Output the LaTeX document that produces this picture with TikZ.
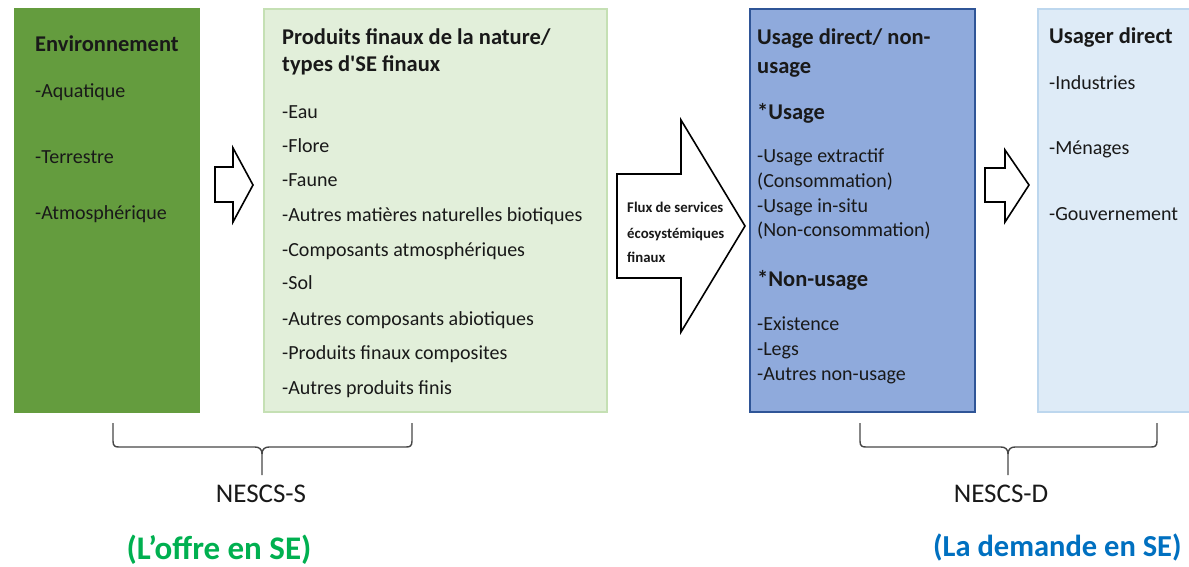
\documentclass[tikz,border=0pt]{standalone}
\usepackage{fontspec}
\setmainfont{Carlito}[Ligatures=TeXOff]
\definecolor{dgreen}{RGB}{100,156,62}
\definecolor{lgreen}{RGB}{226,239,218}
\definecolor{lgreenb}{RGB}{197,224,180}
\definecolor{mblue}{RGB}{143,170,220}
\definecolor{mblueb}{RGB}{47,85,151}
\definecolor{lblue}{RGB}{222,235,247}
\definecolor{lblueb}{RGB}{189,215,238}
\definecolor{offre}{RGB}{0,176,80}
\definecolor{demande}{RGB}{0,112,192}
\definecolor{bracec}{RGB}{70,70,70}
\tikzset{
  txt/.style={anchor=mid west, inner sep=0pt, yshift=-4pt, text=black!90, font=\fontsize{20}{24}\selectfont},
  ttl/.style={txt, font=\fontsize{22.5}{27}\selectfont\bfseries},
  flux/.style={anchor=mid west, inner sep=0pt, yshift=-3pt, text=black!90, font=\fontsize{14.8}{17}\selectfont\bfseries},
  blockarrow/.style={draw=black, line width=1.6pt, fill=white, line join=miter},
  bracepath/.style={draw=bracec, line width=1.4pt},
  nescs/.style={inner sep=0pt, text=black!90, font=\fontsize{27}{32}\selectfont},
  side/.style={inner sep=0pt, font=\fontsize{33}{38}\selectfont\bfseries}
}
\begin{document}
\begin{tikzpicture}[x=1pt,y=-1pt]
\useasboundingbox (0,0) rectangle (1189,566);

% boxes
\fill[dgreen] (14,8) rectangle (200,413);
\draw[lgreenb, fill=lgreen, line width=1.6pt] (264,9) rectangle (607,412);
\draw[mblueb, fill=mblue, line width=1.6pt] (750,9) rectangle (975,412);
\draw[lblueb, fill=lblue, line width=1.6pt] (1038,9) rectangle (1200,412);

% block arrows
\draw[blockarrow] (215,167) -- (233,167) -- (233,148) -- (253,185) -- (233,222) -- (233,202) -- (215,202) -- cycle;
\draw[blockarrow] (617,174) -- (681,174) -- (681,120) -- (745,226) -- (681,332) -- (681,278) -- (617,278) -- cycle;
\draw[blockarrow] (985,168) -- (1005,168) -- (1005,150) -- (1029,185) -- (1005,222) -- (1005,202) -- (985,202) -- cycle;

% box 1
\node[ttl] (e0) at (35,45) {Environnement};
\node[txt] (e1) at (35,91) {-Aquatique};
\node[txt] (e2) at (35,157) {-Terrestre};
\node[txt] (e3) at (35,213) {-Atmosphérique};

% box 2
\node[ttl] (p0) at (282,38) {Produits finaux de la nature/};
\node[ttl] (p0b) at (282,65) {types d'SE finaux};
\node[txt] (p1) at (282,112) {-Eau};
\node[txt] (p2) at (282,146) {-Flore};
\node[txt] (p3) at (282,180) {-Faune};
\node[txt] (p4) at (282,215) {-Autres matières naturelles biotiques};
\node[txt] (p5) at (282,250) {-Composants atmosphériques};
\node[txt] (p6) at (282,283) {-Sol};
\node[txt] (p7) at (282,319) {-Autres composants abiotiques};
\node[txt] (p8) at (282,353) {-Produits finaux composites};
\node[txt] (p9) at (282,388) {-Autres produits finis};

% flux text
\node[flux] (f1) at (627,207) {Flux de services};
\node[flux] (f2) at (627,233) {écosystémiques};
\node[flux] (f3) at (627,257) {finaux};

% box 3
\node[ttl] (u0) at (757,38) {Usage direct/ non-};
\node[ttl] (u0b) at (757,67) {usage};
\node[ttl] (u1) at (757,113) {*Usage};
\node[txt] (u2) at (757,156) {-Usage extractif};
\node[txt] (u3) at (757,181) {(Consommation)};
\node[txt] (u4) at (757,206) {-Usage in-situ};
\node[txt] (u5) at (757,230) {(Non-consommation)};
\node[ttl] (u6) at (757,280) {*Non-usage};
\node[txt] (u7) at (757,324) {-Existence};
\node[txt] (u8) at (757,349) {-Legs};
\node[txt] (u9) at (757,374) {-Autres non-usage};

% box 4
\node[ttl] (d0) at (1049,37) {Usager direct};
\node[txt] (d1) at (1049,83) {-Industries};
\node[txt] (d2) at (1049,148) {-Ménages};
\node[txt] (d3) at (1049,214) {-Gouvernement};

% braces
\coordinate (bl1) at (113,423);
\coordinate (bl2) at (412,423);
\coordinate (blm) at (262,475);
\draw[bracepath] (bl1) -- (113,441) .. controls (113,446) and (115,447) .. (119,447) -- (255,447) .. controls (259,447) and (262,449) .. (262,454) -- (blm);
\draw[bracepath] (bl2) -- (412,441) .. controls (412,446) and (410,447) .. (406,447) -- (269,447) .. controls (265,447) and (262,449) .. (262,454);
\node[nescs] (ns) at (261,494) {NESCS-S};

\coordinate (br1) at (860,423);
\coordinate (br2) at (1157,423);
\coordinate (brm) at (1008,475);
\draw[bracepath] (br1) -- (860,441) .. controls (860,446) and (862,447) .. (866,447) -- (1001,447) .. controls (1005,447) and (1008,449) .. (1008,454) -- (brm);
\draw[bracepath] (br2) -- (1157,441) .. controls (1157,446) and (1155,447) .. (1151,447) -- (1015,447) .. controls (1011,447) and (1008,449) .. (1008,454);
\node[nescs] (nd) at (1001,494) {NESCS-D};

% bottom labels
\node[side, text=offre] (lo) at (219,550) {(L’offre en SE)};
\node[side, text=demande, anchor=mid west, yshift=-4pt, font=\fontsize{30.5}{36}\selectfont\bfseries] (ld) at (933,550) {(La demande en SE)};
\end{tikzpicture}
\end{document}
